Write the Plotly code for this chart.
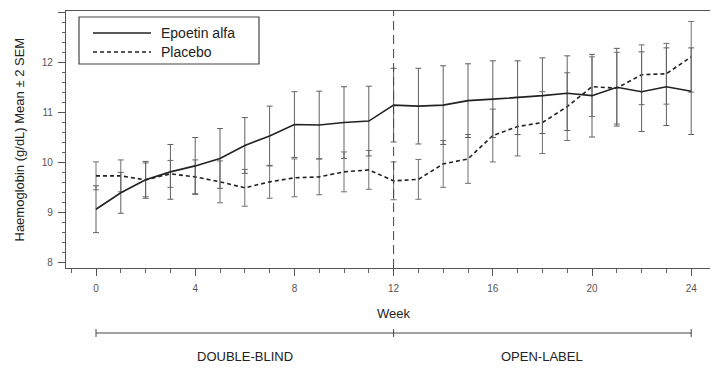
import plotly.graph_objects as go

weeks = list(range(0, 25))
epoetin = [9.06, 9.39, 9.65, 9.81, 9.93, 10.08, 10.34, 10.53, 10.76, 10.75, 10.80, 10.83, 11.15,
           11.13, 11.15, 11.24, 11.27, 11.30, 11.34, 11.39, 11.34, 11.51, 11.42, 11.52, 11.43]
epoetin_err = [0.47, 0.41, 0.37, 0.55, 0.57, 0.60, 0.56, 0.60, 0.66, 0.68, 0.72, 0.70, 0.74,
               0.76, 0.79, 0.74, 0.77, 0.74, 0.76, 0.75, 0.83, 0.78, 0.80, 0.78, 0.87]
placebo = [9.73, 9.73, 9.65, 9.77, 9.71, 9.61, 9.49, 9.61, 9.69, 9.71, 9.81, 9.85, 9.63,
           9.66, 9.97, 10.07, 10.54, 10.72, 10.80, 11.12, 11.52, 11.49, 11.76, 11.78, 12.12]
placebo_err = [0.28, 0.32, 0.34, 0.27, 0.34, 0.42, 0.37, 0.33, 0.38, 0.36, 0.40, 0.39, 0.38,
               0.40, 0.47, 0.49, 0.53, 0.59, 0.62, 0.68, 0.60, 0.72, 0.60, 0.61, 0.71]
series_names = ["Epoetin alfa", "Placebo"]
x_ticks = [0, 4, 8, 12, 16, 20, 24]
y_ticks = [8, 9, 10, 11, 12, 13]
phase_labels = ["DOUBLE-BLIND", "OPEN-LABEL"]
phase_bounds = [0, 12, 24]

FONT = "Liberation Sans, Arial, sans-serif"
OFF = 8  # page body margin in the browser
W, H = 718 - OFF, 368 - OFF
# plot area in window pixels: x 66..716, y 11..268
PL, PR, PT, PB = 66, 716, 11, 268
L, R, T, B = PL - OFF, (718 - PR), PT - OFF, (368 - PB)
pw = PR - PL
ph = PB - PT


def px_x(p):
    return (p - PL) / pw


def px_y(p):
    return 1 - (p - PT) / ph


fig = go.Figure()
fig.add_trace(go.Scatter(
    x=weeks, y=placebo, mode="lines", name=series_names[1],
    line=dict(color="#222222", width=1.6, dash="4px,3px"),
    error_y=dict(type="data", array=placebo_err, visible=True, color="#707070",
                 thickness=1, width=3),
    showlegend=False))
fig.add_trace(go.Scatter(
    x=weeks, y=epoetin, mode="lines", name=series_names[0],
    line=dict(color="#222222", width=1.6),
    error_y=dict(type="data", array=epoetin_err, visible=True, color="#606060",
                 thickness=1, width=3),
    showlegend=False))

# vertical dashed separator at week 12
fig.add_shape(type="line", xref="x", yref="paper", x0=phase_bounds[1], x1=phase_bounds[1],
              y0=0, y1=1, line=dict(color="#444444", width=1, dash="9px,5px"))

# legend box
fig.add_shape(type="rect", xref="paper", yref="paper",
              x0=px_x(79), x1=px_x(259), y0=px_y(64), y1=px_y(17),
              line=dict(color="#444444", width=1.2), fillcolor="white")
fig.add_shape(type="line", xref="paper", yref="paper",
              x0=px_x(93), x1=px_x(151), y0=px_y(33), y1=px_y(33),
              line=dict(color="#222222", width=1.6))
fig.add_shape(type="line", xref="paper", yref="paper",
              x0=px_x(93), x1=px_x(151), y0=px_y(52), y1=px_y(52),
              line=dict(color="#222222", width=1.6, dash="4px,3px"))
for name, yy in zip(series_names, [33, 52]):
    fig.add_annotation(xref="paper", yref="paper", x=px_x(159), y=px_y(yy),
                       text=name, showarrow=False, xanchor="left", yanchor="middle",
                       font=dict(family=FONT, size=14, color="#222222"))

# axis titles
fig.add_annotation(xref="paper", yref="paper", x=px_x(19), y=0.5,
                   text="Haemoglobin (g/dL) Mean ± 2 SEM", textangle=-90,
                   showarrow=False, xanchor="center", yanchor="middle",
                   font=dict(family=FONT, size=13, color="#222222"))
fig.add_annotation(xref="x", yref="paper", x=12, y=px_y(313),
                   text="Week", showarrow=False, xanchor="center", yanchor="middle",
                   font=dict(family=FONT, size=13, color="#222222"))

# phase bracket
by = px_y(333)
fig.add_shape(type="line", xref="x", yref="paper", x0=phase_bounds[0], x1=phase_bounds[-1],
              y0=by, y1=by, line=dict(color="#444444", width=1))
for b in phase_bounds:
    fig.add_shape(type="line", xref="x", yref="paper", x0=b, x1=b,
                  y0=px_y(329), y1=px_y(337), line=dict(color="#444444", width=1))
for lab, a, b in zip(phase_labels, phase_bounds[:-1], phase_bounds[1:]):
    fig.add_annotation(xref="x", yref="paper", x=(a + b) / 2, y=px_y(356),
                       text=lab, showarrow=False, xanchor="center", yanchor="middle",
                       font=dict(family=FONT, size=13, color="#222222"))

fig.update_xaxes(range=[-1.21, 25.0], tickvals=x_ticks, ticks="outside", ticklen=7,
                 tickcolor="#555555", showline=True, linecolor="#555555", linewidth=1.2,
                 mirror=True, showgrid=False, zeroline=False, ticklabelstandoff=4,
                 tickfont=dict(family=FONT, size=10, color="#555555"),
                 minor=dict(dtick=1, tick0=0, ticks="outside", ticklen=4, tickcolor="#666666"))
fig.update_yaxes(range=[7.88, 13.04], tickvals=y_ticks, ticks="outside", ticklen=7,
                 tickcolor="#555555", showline=True, linecolor="#555555", linewidth=1.2,
                 mirror=True, showgrid=False, zeroline=False, ticklabelstandoff=3,
                 tickfont=dict(family=FONT, size=10, color="#555555"),
                 minor=dict(dtick=0.2, tick0=8, ticks="outside", ticklen=3, tickcolor="#666666"))

fig.update_layout(width=W, height=H, margin=dict(l=L, r=R, t=T, b=B),
                  plot_bgcolor="white", paper_bgcolor="white", showlegend=False)

fig.write_html("out.html")
